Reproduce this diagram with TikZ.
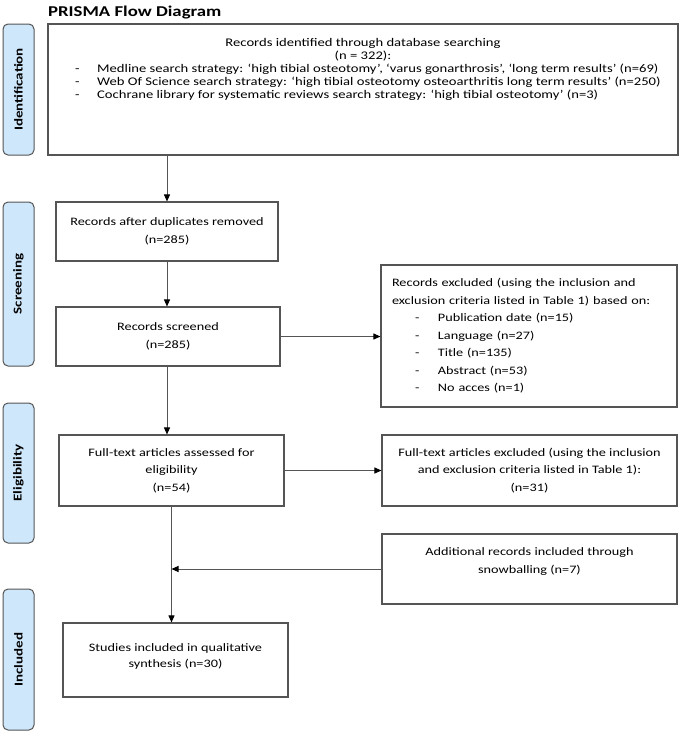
\documentclass[tikz,border=0pt]{standalone}
\usepackage{fontspec}
\setmainfont{Carlito}[FakeStretch=1.25]
\usetikzlibrary{arrows.meta}
\definecolor{tabblue}{RGB}{207,231,251}
\definecolor{boxline}{RGB}{85,85,85}
\newcommand{\dashitem}[1]{\makebox[22pt][l]{-}#1}
\newcommand{\exclitem}[1]{\hspace*{23pt}\makebox[23pt][l]{-}#1}
\begin{document}
\begin{tikzpicture}[x=1pt,y=-1pt,
  box/.style={draw=boxline,line width=1.1pt,fill=white,inner sep=0pt,align=center,font=\fontsize{11.4}{17.5}\selectfont},
  stage/.style={draw=boxline,line width=1pt,fill=tabblue,rounded corners=5pt,minimum width=31pt,inner sep=0pt,font=\bfseries\fontsize{12}{14}\selectfont},
  txt/.style={inner sep=0pt,font=\fontsize{11.7}{12.8}\selectfont},
  flow/.style={draw=boxline,line width=0.9pt,-{Triangle[length=7pt,width=6pt,color=black]}}]
\useasboundingbox (0,0) rectangle (685,732);
% title
\node[anchor=west,inner sep=0pt,font=\bfseries\fontsize{15}{18}\selectfont] (title) at (48,13) {PRISMA Flow Diagram};
% stage tabs
\node[stage,minimum height=131pt] (identification) at (18.5,89.5) {\rotatebox{90}{Identification}};
\node[stage,minimum height=164pt] (screening) at (18.5,284) {\rotatebox{90}{Screening}};
\node[stage,minimum height=140pt] (eligibility) at (18.5,473) {\rotatebox{90}{Eligibility}};
\node[stage,minimum height=141pt] (included) at (18.5,659.5) {\rotatebox{90}{Included}};
% boxes
\node[box,minimum width=630pt,minimum height=131pt] (ident) at (363,89.5) {};
\node[txt,align=center] (identhead) at (363,50) {Records identified through database searching\\(n = 322):};
\node[txt,align=left,anchor=north west] (identlist) at (75,64) {%
  \dashitem{Medline search strategy: ‘high tibial osteotomy’, ‘varus gonarthrosis’, ‘long term results’ (n=69)}\\
  \dashitem{Web Of Science search strategy: ‘high tibial osteotomy osteoarthritis long term results’ (n=250)}\\
  \dashitem{Cochrane library for systematic reviews search strategy: ‘high tibial osteotomy’ (n=3)}};
\node[box,minimum width=222pt,minimum height=59pt] (dup) at (167,231.5) {Records after duplicates removed\\(n=285)};
\node[box,minimum width=224pt,minimum height=59pt] (screened) at (168,336.5) {Records screened\\(n=285)};
\node[box,minimum width=296pt,minimum height=142pt,text width=274pt,align=left] (excluded) at (529,336) {%
  \mbox{Records excluded (using the inclusion and}\\
  \mbox{exclusion criteria listed in Table 1) based on:}\\
  \exclitem{Publication date (n=15)}\\
  \exclitem{Language (n=27)}\\
  \exclitem{Title (n=135)}\\
  \exclitem{Abstract (n=53)}\\
  \exclitem{No acces (n=1)}};
\node[box,minimum width=225pt,minimum height=71pt] (assessed) at (171.5,470.5) {Full-text articles assessed for\\eligibility\\(n=54)};
\node[box,minimum width=295pt,minimum height=71pt] (ftexcl) at (529.5,470.5) {Full-text articles excluded (using the inclusion\\and exclusion criteria listed in Table 1):\\(n=31)};
\node[box,minimum width=295pt,minimum height=70pt,text depth=17pt] (additional) at (529.5,569) {Additional records included through\\snowballing (n=7)};
\node[box,minimum width=225pt,minimum height=74pt,text depth=8pt,font=\fontsize{11.4}{16}\selectfont] (studies) at (175.5,660) {Studies included in qualitative\\synthesis (n=30)};
% arrows
\draw[flow] (dup.north |- ident.south) -- (dup.north);
\draw[flow] (dup.south) -- (dup.south |- screened.north);
\draw[flow] (screened.east) -- (screened.east -| excluded.west);
\draw[flow] (dup.south |- screened.south) -- (dup.south |- assessed.north);
\draw[flow] (assessed.east) -- (assessed.east -| ftexcl.west);
\draw[flow] (assessed.south) -- (assessed.south |- studies.north);
\draw[flow] (additional.west) -- (additional.west -| assessed.south);
\end{tikzpicture}
\end{document}
